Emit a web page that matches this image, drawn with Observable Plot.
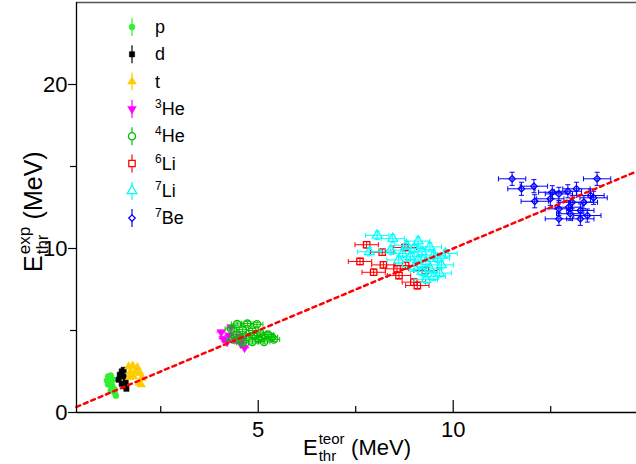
<!DOCTYPE html>
<html><head><meta charset="utf-8">
<script src="https://cdn.jsdelivr.net/npm/d3@7"></script>
<script src="https://cdn.jsdelivr.net/npm/@observablehq/plot@0.6"></script>
<style>
body{margin:0;background:#fff;}
#chart{width:636px;height:464px;overflow:hidden;}
</style>
</head><body><div id="chart"></div>
<script>
// ---- data ----
const seriesNames = ["p", "d", "t", "3He", "4He", "6Li", "7Li", "7Be"];
const pX = [1.15, 1.22, 1.12, 1.2, 1.28, 1.15, 1.25, 1.3, 1.22, 1.32, 1.35];
const pY = [2.2, 2.25, 1.95, 1.9, 2.0, 1.7, 1.65, 1.45, 1.35, 1.2, 1.02];
const dX = [1.5, 1.45, 1.55, 1.42, 1.6, 1.5, 1.58, 1.62, 1.55];
const dY = [2.5, 2.3, 2.2, 2.0, 1.9, 1.75, 1.6, 1.45, 2.6];
const tX = [1.68, 1.78, 1.9, 1.72, 1.85, 1.97, 2.02, 1.8, 1.95, 1.7, 2.0];
const tY = [2.8, 2.85, 2.75, 2.45, 2.5, 2.4, 2.1, 2.2, 1.8, 2.15, 1.7];
const he3X = [4.05, 4.1, 4.3, 4.25, 4.4, 4.55, 4.65, 4.5, 4.2, 4.6];
const he3Y = [4.9, 4.5, 5.2, 4.7, 4.45, 4.2, 3.95, 4.65, 4.3, 4.5];
const he4X = [4.46, 4.72, 4.97, 4.3, 4.6, 4.85, 5.05, 5.25, 4.45, 4.7, 4.9, 5.1, 5.35, 4.35, 5.15, 4.85, 4.6, 5.4, 5.0];
const he4Y = [5.4, 5.42, 5.38, 5.1, 5.05, 5.0, 4.85, 4.75, 4.75, 4.6, 4.7, 4.55, 4.6, 4.45, 4.3, 4.3, 4.25, 4.45, 4.45];
const li6X = [7.78, 8.18, 8.76, 7.61, 8.21, 7.96, 8.56, 8.61, 8.99, 9.08, 8.78, 9.29];
const li6Y = [10.23, 9.77, 10.06, 9.21, 9.0, 8.55, 8.76, 8.35, 7.95, 7.74, 8.96, 8.66];
const li7X = [8.05, 8.45, 9.1, 7.85, 8.4, 8.8, 9.0, 9.2, 9.4, 9.5, 8.9, 9.1, 9.3, 9.6, 8.7, 9.0, 9.4, 9.7, 9.2, 9.5, 8.6, 9.8, 9.3, 9.65];
const li7Y = [10.8, 10.6, 10.45, 9.8, 9.9, 10.2, 10.0, 9.8, 10.1, 9.6, 9.5, 9.3, 9.2, 9.4, 9.7, 8.9, 8.8, 9.0, 8.6, 8.3, 9.3, 9.7, 8.1, 8.5];
const be7X = [11.51, 11.75, 12.07, 12.09, 12.49, 12.71, 12.94, 13.16, 13.52, 13.69, 13.6, 12.71, 12.96, 13.0, 13.26, 13.44, 12.71, 13.26, 13.05, 13.35, 12.54];
const be7Y = [14.25, 13.64, 13.8, 12.88, 13.03, 13.33, 13.49, 13.64, 13.23, 14.25, 13.09, 12.42, 12.52, 12.12, 12.32, 12.01, 11.81, 11.81, 12.82, 12.82, 13.43];
const errX = [0.05, 0.05, 0.07, 0.12, 0.15, 0.3, 0.3, 0.35];
const errY = [0.15, 0.15, 0.15, 0.15, 0.12, 0.2, 0.25, 0.4];
const xTicksMajor = [5, 10];
const xTicksMinor = [2.5, 7.5, 12.5];
const yTicksMajor = [0, 10, 20];
const yTicksMinor = [5, 15];
const xDomain = [0.34, 14.7];
const yDomain = [0, 25];

// ---- styles ----
const seriesX = [pX, dX, tX, he3X, he4X, li6X, li7X, be7X];
const seriesY = [pY, dY, tY, he3Y, he4Y, li6Y, li7Y, be7Y];
const colors = ["#33ee33", "#000000", "#ffcc00", "#ff00ff", "#00c000", "#ff0000", "#00ffff", "#0000ff"];
const symbols = ["circle", "square", "triangle", "triangle", "circle", "square", "triangle", "diamond2"];
const rotations = [0, 0, 0, 180, 0, 0, 0, 0];
const filled = [true, true, true, true, false, false, false, false];
const radii = [3, 3, 3.2, 3.2, 3.6, 3.6, 3.6, 2.9];

const capSym = {draw(ctx, size) { const h = Math.sqrt(size / Math.PI); ctx.moveTo(-h, 0); ctx.lineTo(h, 0); }};

const W = 636, H = 464, mL = 76, mR = 0, mT = 2, mB = 52;
const font = "'Liberation Sans', Arial, Helvetica, sans-serif";

const marks = [];
seriesNames.forEach((name, i) => {
  const rows = seriesX[i].map((x, j) => ({x, y: seriesY[i][j], ex: errX[i], ey: errY[i]}));
  const c = colors[i];
  marks.push(Plot.link(rows, {x1: d => d.x - d.ex, x2: d => d.x + d.ex, y1: "y", y2: "y", stroke: c, strokeWidth: 1}));
  marks.push(Plot.link(rows, {x1: "x", x2: "x", y1: d => d.y - d.ey, y2: d => d.y + d.ey, stroke: c, strokeWidth: 1}));
  if (i >= 4) {
    marks.push(Plot.dot(rows, {x: d => d.x - d.ex, y: "y", symbol: capSym, r: 2.5, rotate: 90, stroke: c, fill: "none", strokeWidth: 1}));
    marks.push(Plot.dot(rows, {x: d => d.x + d.ex, y: "y", symbol: capSym, r: 2.5, rotate: 90, stroke: c, fill: "none", strokeWidth: 1}));
    marks.push(Plot.dot(rows, {x: "x", y: d => d.y - d.ey, symbol: capSym, r: 2.5, stroke: c, fill: "none", strokeWidth: 1}));
    marks.push(Plot.dot(rows, {x: "x", y: d => d.y + d.ey, symbol: capSym, r: 2.5, stroke: c, fill: "none", strokeWidth: 1}));
  }
  marks.push(Plot.dot(rows, {
    x: "x", y: "y", symbol: symbols[i], r: radii[i], rotate: rotations[i],
    fill: filled[i] ? c : "none", stroke: c, strokeWidth: filled[i] ? 0.5 : 1.3
  }));
});

const diag = xDomain.map(v => ({x: v, y: v}));

const chart = Plot.plot({
  width: W, height: H,
  marginLeft: mL, marginRight: mR, marginTop: mT, marginBottom: mB,
  style: {fontFamily: font, fontSize: "22px", background: "#fff", color: "#000"},
  x: {domain: xDomain, axis: null},
  y: {domain: yDomain, axis: null},
  marks: [
    ...marks,
    Plot.line(diag, {x: "x", y: "y", stroke: "#ff0000", strokeWidth: 2.5, strokeDasharray: "4,4"}),
    Plot.ruleY([yDomain[0]], {stroke: "#000", strokeWidth: 1.3}),
    Plot.ruleY([yDomain[1]], {stroke: "#555", strokeWidth: 1.3}),
    Plot.ruleX([xDomain[0]], {stroke: "#000", strokeWidth: 1.3}),
    Plot.axisX({ticks: xTicksMajor, tickSize: -12, text: null, label: null, strokeWidth: 1.2}),
    Plot.axisX({ticks: xTicksMinor, tickSize: -6, text: null, label: null, strokeWidth: 1.2}),
    Plot.axisX({ticks: xTicksMajor, tickSize: 0, tickPadding: 9, label: null, fontSize: 22}),
    Plot.axisY({ticks: yTicksMajor, tickSize: 8, tickPadding: 1, label: null, fontSize: 22, strokeWidth: 1.2}),
    Plot.axisY({ticks: yTicksMinor, tickSize: 6, text: null, label: null, strokeWidth: 1.2})
  ]
});

document.getElementById("chart").appendChild(chart);
const svg = d3.select(chart);

// ---- axis titles with sub/superscripts (advance widths of Arial-metric glyphs) ----
function richLabel(g, fs, sup, sub, supW, subW) {
  const ss = Math.round(fs * 0.66);
  const wE = 0.667 * fs;
  g.append("text").attr("x", 0).attr("y", 0).attr("font-size", fs).text("E");
  g.append("text").attr("x", wE + 1).attr("y", -0.5 * fs).attr("font-size", ss).text(sup);
  g.append("text").attr("x", wE + 1).attr("y", 0.25 * fs).attr("font-size", ss).text(sub);
  const w = Math.max(supW, subW) * ss;
  g.append("text").attr("x", wE + 1 + w + 0.3 * fs).attr("y", 0).attr("font-size", fs).text("(MeV)");
}
const gx = svg.append("g").attr("font-family", font).attr("text-anchor", "start").attr("fill", "#000").attr("transform", "translate(303,455)");
richLabel(gx, 22, "teor", "thr", 1.723, 1.167);
const gy = svg.append("g").attr("font-family", font).attr("text-anchor", "start").attr("fill", "#000").attr("transform", "translate(42,272) rotate(-90)");
richLabel(gy, 25, "exp", "thr", 1.612, 1.167);

// ---- legend ----
const symMap = {circle: d3.symbolCircle, square: d3.symbolSquare, triangle: d3.symbolTriangle, diamond2: d3.symbolDiamond2};
const leg = svg.append("g").attr("font-family", font).attr("text-anchor", "start");
seriesNames.forEach((name, i) => {
  const y = 27 + 27.3 * i;
  const g = leg.append("g").attr("transform", `translate(132,${y})`);
  g.append("line").attr("y1", -9).attr("y2", 9).attr("stroke", colors[i]).attr("stroke-width", 1.2);
  g.append("path")
    .attr("d", d3.symbol(symMap[symbols[i]], Math.PI * radii[i] * radii[i])())
    .attr("transform", `rotate(${rotations[i]})`)
    .attr("fill", filled[i] ? colors[i] : "#fff")
    .attr("stroke", colors[i]).attr("stroke-width", filled[i] ? 0.5 : 1.3);
  const m = name.match(/^(\d*)(.*)$/);
  const t = leg.append("text").attr("x", 155).attr("y", y + 6).attr("font-size", 18).attr("fill", "#000");
  if (m[1]) {
    t.append("tspan").attr("font-size", 12).attr("dy", -7).text(m[1]);
    t.append("tspan").attr("dy", 7).text(m[2]);
  } else {
    t.text(m[2]);
  }
});
</script>
</body></html>
